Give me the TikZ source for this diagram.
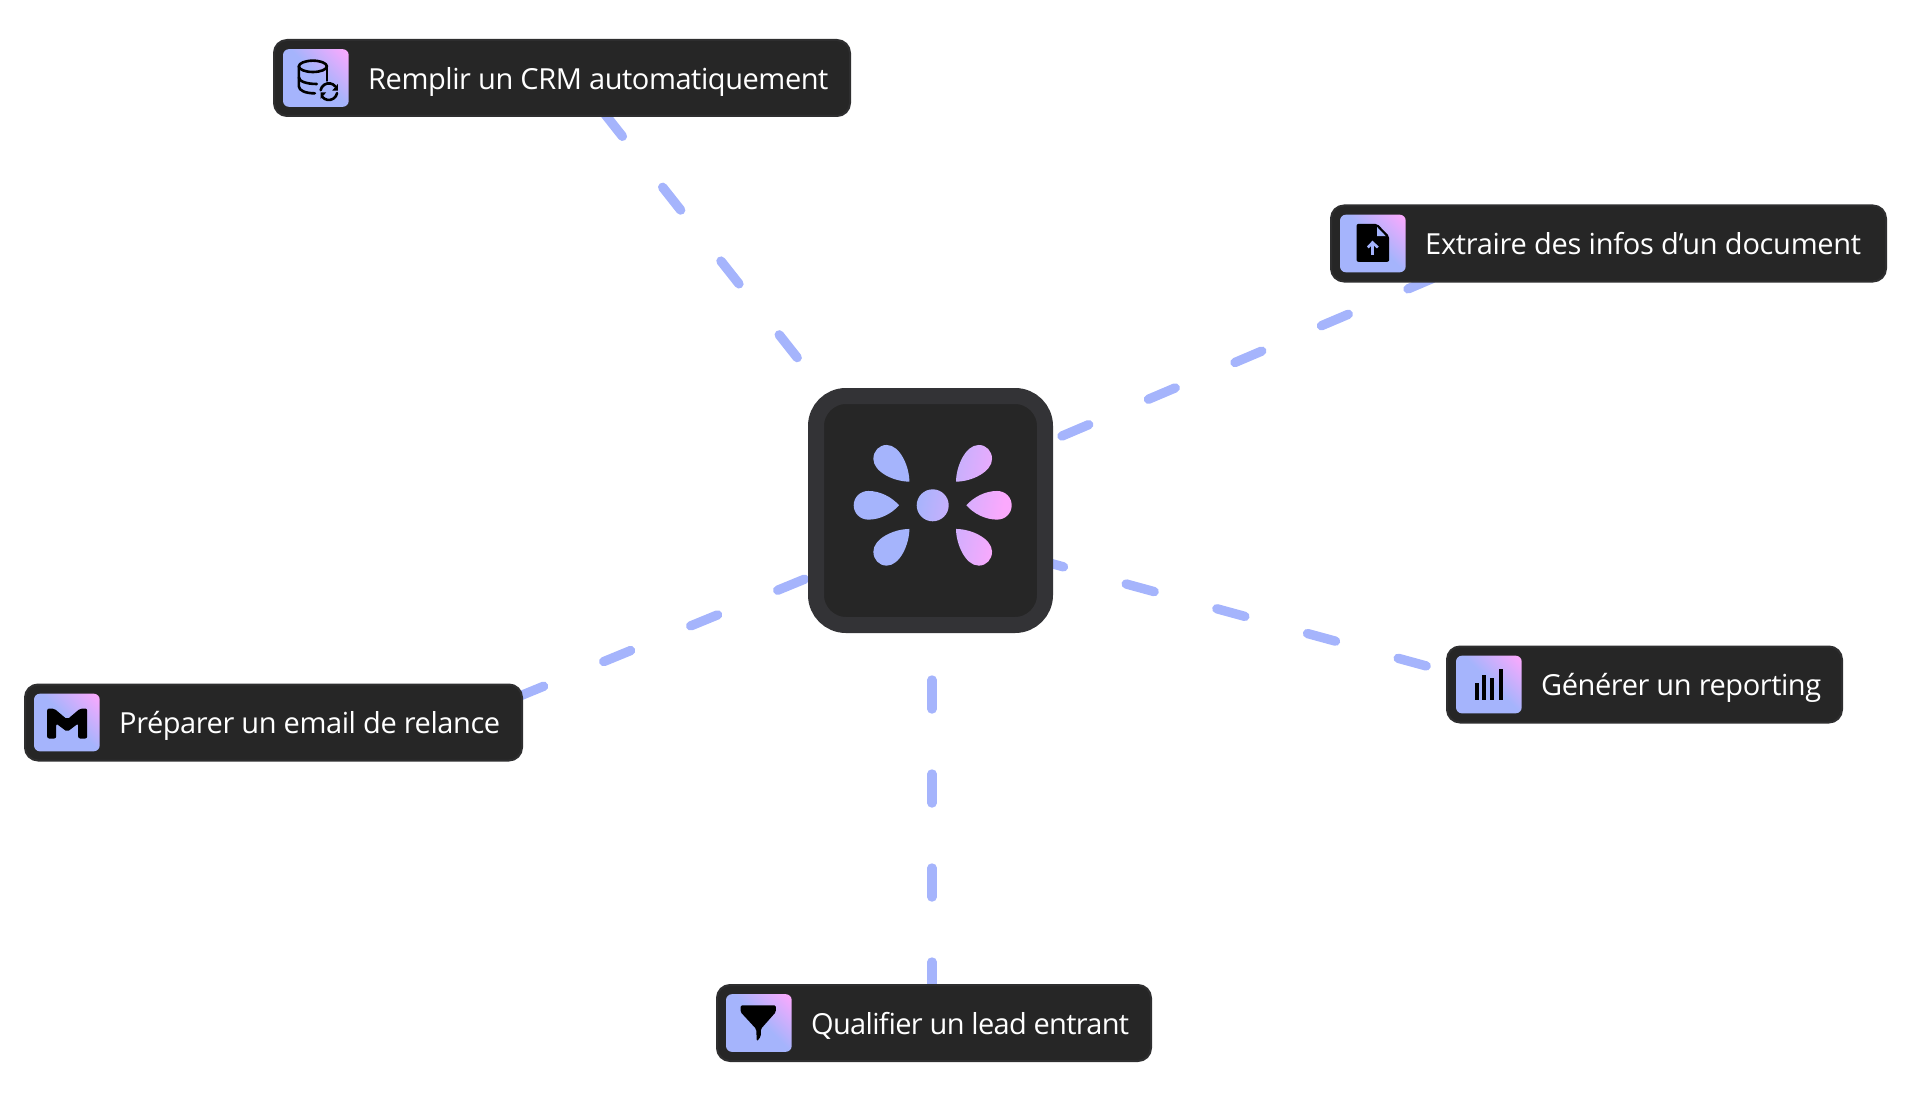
\documentclass[tikz,border=0pt]{standalone}
\usepackage{fontspec}
\setmainfont[LetterSpace=-1.5]{Open Sans}
\usetikzlibrary{positioning,calc,backgrounds}

\definecolor{blueA}{HTML}{A5B4FC}
\definecolor{pinkA}{HTML}{FBA9FD}
\definecolor{boxfill}{HTML}{262626}
\definecolor{boxedge}{HTML}{2E2E2F}
\definecolor{hubedge}{HTML}{333336}
\pgfdeclareverticalshading{iconfade}{100bp}{color(0bp)=(blueA); color(52bp)=(blueA); color(84bp)=(pinkA); color(100bp)=(pinkA)}
\pgfdeclareverticalshading{logofade}{100bp}{color(0bp)=(blueA); color(44bp)=(blueA); color(73bp)=(pinkA); color(100bp)=(pinkA)}

\tikzset{
  labelbox/.style={draw=boxedge, line width=2pt, fill=boxfill, rounded corners=13pt, minimum height=76pt, inner sep=0pt},
  iconbox/.style={shade, shading=iconfade, shading angle=-45, rounded corners=6pt, minimum width=65.7pt, minimum height=57.7pt, inner sep=0pt, outer sep=0pt},
  labeltext/.style={text=white, inner sep=0pt, outer sep=0pt, text height=26.3pt, text depth=4pt, font=\fontsize{29}{34}\selectfont},
  dashline/.style={draw=blueA, line width=9.4pt, line cap=round, dash pattern=on 29pt off 65pt},
  iconzoom/.style={x=.3333pt, y=-.3333pt},
  iconline/.style={draw=black, line width=2.6pt, line cap=round, line join=round},
}

\begin{document}
\begin{tikzpicture}[x=1pt,y=-1pt]
  \useasboundingbox (0,0) rectangle (1920,1110);

  \node[draw=hubedge, line width=16pt, fill=boxfill, rounded corners=30pt, minimum size=229pt, inner sep=0pt] (hub) at (930.5,510.5) {};

  \node[labelbox, minimum width=576pt] (crm) at (562,78) {};
  \node[iconbox, right=10pt of crm.west] (crmicon) {};
  \node[labeltext, right=19.5pt of crmicon] (crmtext) {Remplir un CRM automatiquement};

  \node[labelbox, minimum width=555pt] (extract) at (1608.5,243.5) {};
  \node[iconbox, right=10pt of extract.west] (extracticon) {};
  \node[labeltext, right=19.5pt of extracticon] (extracttext) {\addfontfeature{LetterSpace=-1}Extraire des infos d’un document};

  \node[labelbox, minimum width=395pt] (report) at (1644.5,684.5) {};
  \node[iconbox, right=10pt of report.west] (reporticon) {};
  \node[labeltext, right=19.5pt of reporticon] (reporttext) {Générer un reporting};

  \node[labelbox, minimum width=497pt] (email) at (273.5,722.5) {};
  \node[iconbox, right=10pt of email.west] (emailicon) {};
  \node[labeltext, right=19.5pt of emailicon] (emailtext) {Préparer un email de relance};

  \node[labelbox, minimum width=434pt] (lead) at (934,1023) {};
  \node[iconbox, right=10pt of lead.west] (leadicon) {};
  \node[labeltext, right=19.5pt of leadicon] (leadtext) {\addfontfeature{LetterSpace=-2.4}Qualifier un lead entrant};

  % connectors run under the boxes
  \begin{scope}[on background layer]
    \draw[dashline] ($(hub.center)+(-133.3,-152.9)$) -- ($(crm.south)+(41.6,-4.5)$);
    \draw[dashline] ($(hub.center)+(131.5,-74.5)$) -- ($(extract.south)+(-176,-4)$);
    \draw[dashline] ($(hub.center)+(105,48.7)$) -- ($(report.west)+(6,-11.5)$);
    \draw[dashline] ($(hub.center)+(-126,68.7)$) -- ($(email.east)+(-8,-24.5)$);
    \draw[dashline] ($(hub.center)+(1.5,169.5)$) -- ($(lead.north)+(-2,5)$);
  \end{scope}

  % logo, one path so that the shading runs over all of it
  \begin{scope}[shift={(932.7,505.3)}, iconzoom]
    \path[shade, shading=logofade, shading angle=-100] (0,0) circle[radius=48]
      \foreach \s/\t in {-1/-1,1/-1,-1/1,1/1} {
        ({70*\s},{71*\t}) .. controls ({70*\s},{116*\t}) and ({98*\s},{181*\t}) .. ({138*\s},{181*\t})
        .. controls ({161*\s},{181*\t}) and ({178*\s},{163*\t}) .. ({178*\s},{139*\t})
        .. controls ({178*\s},{101*\t}) and ({118*\s},{71*\t}) .. ({70*\s},{71*\t}) -- cycle
      }
      \foreach \s in {-1,1} {
        ({101*\s},0) .. controls ({123*\s},-25) and ({158*\s},-43) .. ({193*\s},-43)
        .. controls ({218*\s},-43) and ({237*\s},-24) .. ({237*\s},0)
        .. controls ({237*\s},24) and ({218*\s},43) .. ({193*\s},43)
        .. controls ({158*\s},43) and ({123*\s},25) .. ({101*\s},0) -- cycle
      };
  \end{scope}

  \begin{scope}[iconzoom, shift={(crmicon.center)}]
    \draw[iconline] (-9,-35) ellipse[x radius=42, y radius=17];
    \draw[iconline] (-51,-35) -- (-51,25) .. controls (-51,38) and (-30,46) .. (-3,46);
    \draw[iconline] (-51,-2) .. controls (-51,10) and (-28,18) .. (3,18);
    \draw[iconline] (33,-35) -- (33,8);
    \draw[iconline] (39,41) ++(190:25) arc[start angle=190, end angle=320, radius=25];
    \draw[iconline] (39,41) ++(10:25) arc[start angle=10, end angle=140, radius=25];
    \fill (66,18) -- (66,38) -- (49,38) -- cycle;
    \fill (14,43) -- (31,43) -- (14,63) -- cycle;
  \end{scope}

  \begin{scope}[iconzoom, shift={(extracticon.center)}]
    \fill[rounded corners=2pt] (-49,-59) -- (13,-59) -- (49,-22) -- (49,55) -- (-49,55) -- cycle;
    \fill[blueA] (13,-49) -- (39,-22) -- (13,-22) -- cycle;
    \draw[blueA, line width=2.6pt] (-1,35) -- (-1,-2);
    \draw[blueA, line width=2.6pt] (-15,12) -- (-1,-3) -- (15,12);
  \end{scope}

  \begin{scope}[iconzoom, shift={(reporticon.center)}]
    \fill (-41,-4) rectangle (-29,46);
    \fill (-20,-29) rectangle (-8,46);
    \fill (3,-19) rectangle (14,46);
    \fill (29,-46) rectangle (41,46);
  \end{scope}

  \begin{scope}[iconzoom, shift={(emailicon.center)}]
    \fill[rounded corners=2pt] (-59,48) -- (-59,-42) -- (-38,-42) -- (1,-9) -- (40,-42) -- (61,-42) -- (61,48) -- (34,48) -- (34,3) -- (1,28) -- (-32,3) -- (-32,48) -- cycle;
  \end{scope}

  \begin{scope}[iconzoom, shift={(leadicon.center)}]
    \fill[rounded corners=1.5pt] (-55,-53) -- (51,-53) -- (51,-33) -- (6,18) -- (6,40) -- (-6,56) -- (-8,18) -- (-55,-33) -- cycle;
  \end{scope}
\end{tikzpicture}
\end{document}
